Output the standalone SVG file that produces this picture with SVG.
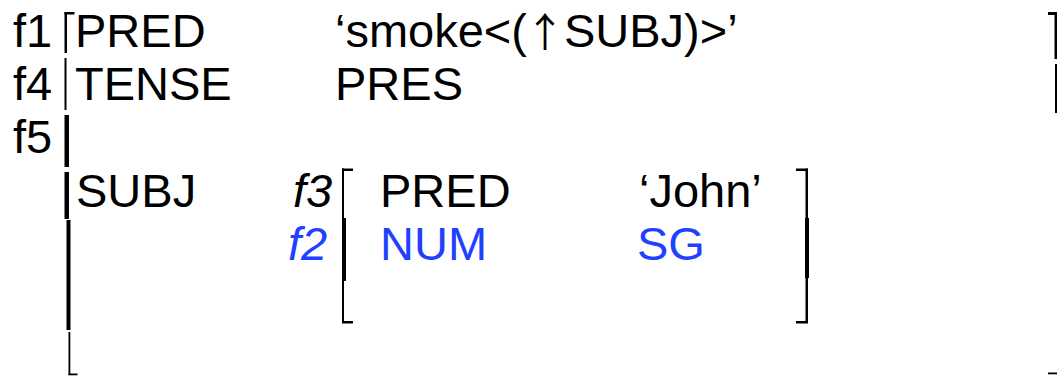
<svg xmlns="http://www.w3.org/2000/svg" width="1057" height="377" viewBox="0 0 1057 377">
<style>
text{font-family:"Liberation Sans",Arial,Helvetica,sans-serif;font-size:47px;fill:#000}
.blue{fill:#1e40ff}
.it{font-style:italic}
.arrow{font-family:"Noto Sans CJK SC","DejaVu Sans",sans-serif;font-size:40px}
.br{fill:#000}
</style>
<rect width="1057" height="377" fill="#fff"/>
<g id="labels">
<text x="13" y="47">f1</text>
<text x="13" y="100">f4</text>
<text x="13" y="153">f5</text>
</g>
<g id="outer-fstructure">
<rect class="br" x="64.5" y="12" width="2.5" height="41"/>
<rect class="br" x="64.5" y="12" width="10" height="2.5"/>
<rect class="br" x="64.5" y="58" width="2" height="52"/>
<rect class="br" x="64.5" y="115" width="4.5" height="52"/>
<rect class="br" x="64.5" y="172" width="4.5" height="47"/>
<rect class="br" x="66.5" y="220" width="4" height="110"/>
<rect class="br" x="68.5" y="332" width="1.8" height="43"/>
<rect class="br" x="68.5" y="373.5" width="9" height="1.8"/>
<rect class="br" x="1048" y="12" width="9" height="3"/>
<rect class="br" x="1054.5" y="12" width="2.5" height="47"/>
<rect class="br" x="1055" y="64" width="2" height="49"/>
<rect class="br" x="1048" y="372.5" width="9" height="1.8"/>
<text x="75" y="47">PRED</text>
<text x="335" y="47">‘smoke&lt;(<tspan class="arrow" dx="-2">↑</tspan><tspan dx="-1">SUBJ)&gt;’</tspan></text>
<text x="75" y="100">TENSE</text>
<text x="335" y="100">PRES</text>
<text x="76" y="207">SUBJ</text>
</g>
<g id="inner-fstructure">
<text class="it" x="293" y="207">f3</text>
<text class="it blue" x="288" y="260">f2</text>
<rect class="br" x="342" y="168.5" width="11" height="2.5"/>
<rect class="br" x="342" y="168.5" width="2" height="50"/>
<rect class="br" x="342" y="218" width="4" height="63"/>
<rect class="br" x="342" y="281" width="2" height="42"/>
<rect class="br" x="342" y="321" width="11" height="2.5"/>
<rect class="br" x="796" y="168.5" width="12" height="2.5"/>
<rect class="br" x="805.5" y="168.5" width="2.5" height="50"/>
<rect class="br" x="805" y="218" width="4" height="60"/>
<rect class="br" x="805.5" y="278" width="2.5" height="45"/>
<rect class="br" x="796" y="321" width="12" height="2.5"/>
<text x="380" y="207">PRED</text>
<text x="639" y="207">‘John’</text>
<text class="blue" x="380" y="260">NUM</text>
<text class="blue" x="637" y="260">SG</text>
</g>
<g id="connectors"></g>
</svg>
